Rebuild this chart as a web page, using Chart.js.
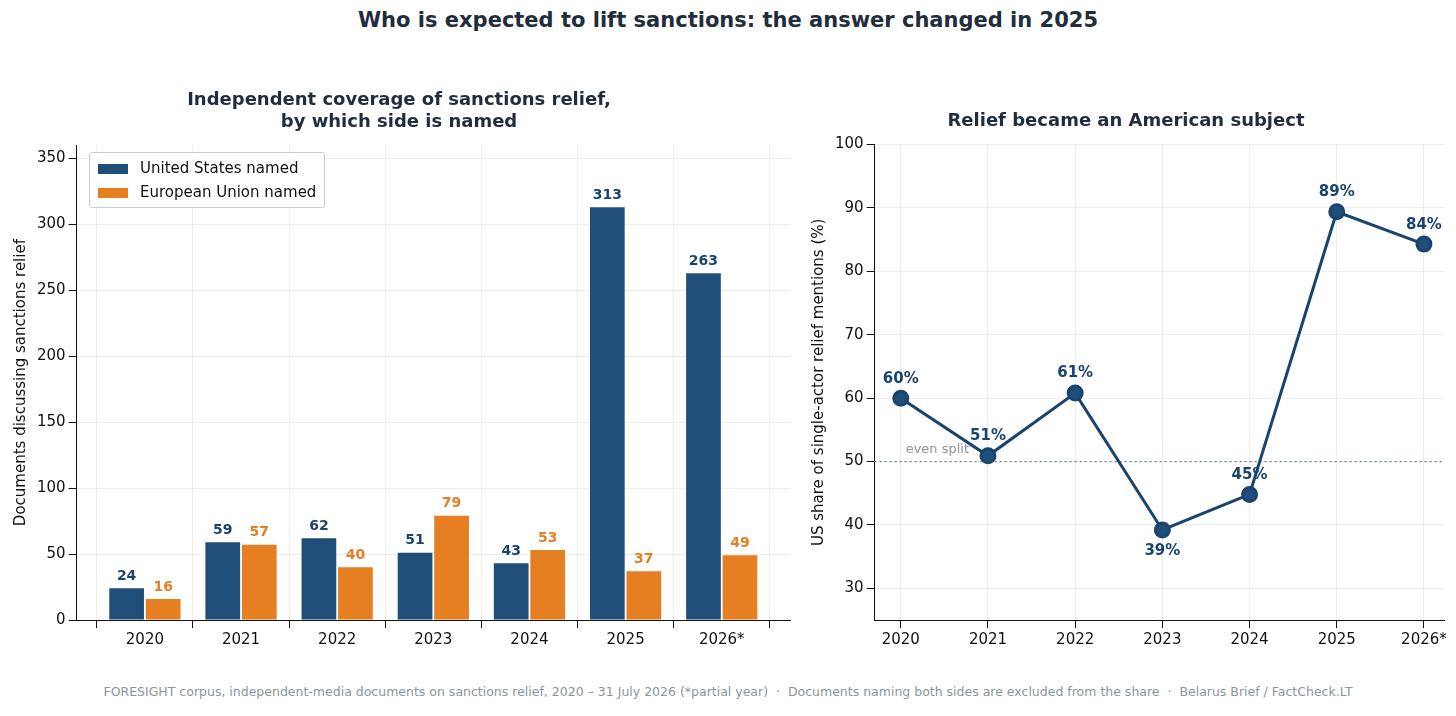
<!DOCTYPE html>
<html><head><meta charset="utf-8">
<script src="https://cdn.jsdelivr.net/npm/chart.js@4"></script>
<style>
body{margin:0;width:1456px;height:716px;background:#fff;font-family:"DejaVu Sans",sans-serif;position:relative;overflow:hidden}
#title{position:absolute;top:8px;width:100%;text-align:center;font-size:21px;font-weight:bold;color:#1f2d3d}
#foot{position:absolute;top:684px;width:100%;text-align:center;font-size:12.5px;color:#8a959e}
.box{position:absolute}
#legend{position:absolute;left:89px;top:152px;border:1px solid #ccc;border-radius:3px;background:rgba(255,255,255,.9);padding:3px 8px;font-size:15px;color:#111;line-height:24px}
#legend span{display:inline-block;width:30px;height:10px;margin-right:12px;vertical-align:middle}
</style></head><body>
<div id="title">Who is expected to lift sanctions: the answer changed in 2025</div>
<div class="box" style="left:0;top:82px;width:800px;height:570px"><canvas id="c1"></canvas></div>
<div class="box" style="left:806px;top:111px;width:648px;height:541px"><canvas id="c2"></canvas></div>
<div id="legend"><div><span style="background:#1f4e79"></span>United States named</div><div><span style="background:#e67e22"></span>European Union named</div></div>
<div id="foot">FORESIGHT corpus, independent-media documents on sanctions relief, 2020 – 31 July 2026 (*partial year) &nbsp;·&nbsp; Documents naming both sides are excluded from the share &nbsp;·&nbsp; Belarus Brief / FactCheck.LT</div>
<script>
const years = ["2020","2021","2022","2023","2024","2025","2026*"];
const usNamed = [24,59,62,51,43,313,263];
const euNamed = [16,57,40,79,53,37,49];
const usShare = [60.0,50.9,60.8,39.2,44.8,89.4,84.3];
const shareLabels = ["60%","51%","61%","39%","45%","89%","84%"];

Chart.defaults.font.family = "DejaVu Sans";
Chart.defaults.color = "#111";
const BLUE = "#1f4e79", ORANGE = "#e67e22", LBL = "#1a4470";
const grid = {color:"rgba(0,0,0,0.07)", drawTicks:true, tickColor:"#111"};
const xyPairs = arr => arr.map((v,i)=>({x:i, y:v}));
const yearTicks = {font:{size:15}, stepSize:1, autoSkip:false, callback:v=>years[v] ?? ""};
const intTicks = a => { a.ticks = years.map((_,i)=>({value:i})); };

const barLabels = {
  id:"barLabels",
  afterDatasetsDraw(chart){
    const ctx = chart.ctx;
    ctx.save();
    ctx.font = "bold 14px DejaVu Sans";
    ctx.textAlign = "center";
    ctx.textBaseline = "bottom";
    chart.data.datasets.forEach((ds,i)=>{
      chart.getDatasetMeta(i).data.forEach((el,j)=>{
        ctx.fillStyle = i===0 ? LBL : ORANGE;
        ctx.fillText(ds.data[j].y, el.x, el.y-5);
      });
    });
    ctx.restore();
  }
};

new Chart(document.getElementById("c1"), {
  type:"bar",
  data:{datasets:[
    {label:"United States named", data:xyPairs(usNamed), backgroundColor:BLUE},
    {label:"European Union named", data:xyPairs(euNamed), backgroundColor:ORANGE}
  ]},
  options:{
    animation:false, responsive:true, maintainAspectRatio:false,
    layout:{padding:{left:8,right:10}},
    datasets:{bar:{categoryPercentage:0.76, barPercentage:0.95}},
    plugins:{
      legend:{display:false},
      tooltip:{enabled:false},
      title:{display:true, text:["Independent coverage of sanctions relief,","by which side is named"], color:"#1f2d3d", font:{size:18,weight:"bold"}, padding:{top:8,bottom:12}}
    },
    scales:{
      x:{type:"linear", min:-0.71, max:6.71, offset:false, afterBuildTicks:intTicks, grid, border:{color:"#111"}, ticks:yearTicks},
      y:{min:0, max:360, afterBuildTicks:a=>{a.ticks=[0,50,100,150,200,250,300,350].map(v=>({value:v}));},
         grid, border:{color:"#111"}, ticks:{font:{size:15}},
         title:{display:true, text:"Documents discussing sanctions relief", font:{size:15}}}
    }
  },
  plugins:[barLabels]
});

const lineExtras = {
  id:"lineExtras",
  beforeDatasetsDraw(chart){
    const {ctx, chartArea:a, scales:{y}} = chart;
    const yy = y.getPixelForValue(50);
    ctx.save();
    ctx.strokeStyle = "#6c8a99"; ctx.lineWidth = 1.2; ctx.setLineDash([2,3]);
    ctx.beginPath(); ctx.moveTo(a.left,yy); ctx.lineTo(a.right,yy); ctx.stroke();
    ctx.setLineDash([]);
    ctx.fillStyle = "#8a959e"; ctx.font = "13px DejaVu Sans"; ctx.textBaseline="bottom";
    ctx.fillText("even split", a.left+31, yy-5);
    ctx.restore();
  },
  afterDatasetsDraw(chart){
    const ctx = chart.ctx;
    ctx.save();
    ctx.font = "bold 15px DejaVu Sans"; ctx.fillStyle = LBL; ctx.textAlign = "center";
    chart.getDatasetMeta(0).data.forEach((el,j)=>{
      const below = j===3;
      ctx.textBaseline = below ? "top" : "bottom";
      ctx.fillText(shareLabels[j], el.x, below ? el.y+14 : el.y-12);
    });
    ctx.restore();
  }
};

new Chart(document.getElementById("c2"), {
  type:"line",
  data:{datasets:[{data:xyPairs(usShare), borderColor:"#1a4470", backgroundColor:"#1f4e79", borderWidth:3, pointRadius:7, pointBorderColor:"#1a4470", tension:0}]},
  options:{
    animation:false, responsive:true, maintainAspectRatio:false,
    layout:{padding:{right:8}},
    plugins:{
      legend:{display:false}, tooltip:{enabled:false},
      title:{display:true, text:"Relief became an American subject", color:"#1f2d3d", font:{size:18,weight:"bold"}, padding:{top:0,bottom:12}}
    },
    scales:{
      x:{type:"linear", min:-0.3, max:6.23, afterBuildTicks:intTicks, grid, border:{color:"#111"}, ticks:yearTicks},
      y:{min:25, max:100, afterBuildTicks:a=>{a.ticks=[30,40,50,60,70,80,90,100].map(v=>({value:v}));},
         grid, border:{color:"#111"}, ticks:{font:{size:15}},
         title:{display:true, text:"US share of single-actor relief mentions (%)", font:{size:15}}}
    }
  },
  plugins:[lineExtras]
});
</script>
</body></html>
